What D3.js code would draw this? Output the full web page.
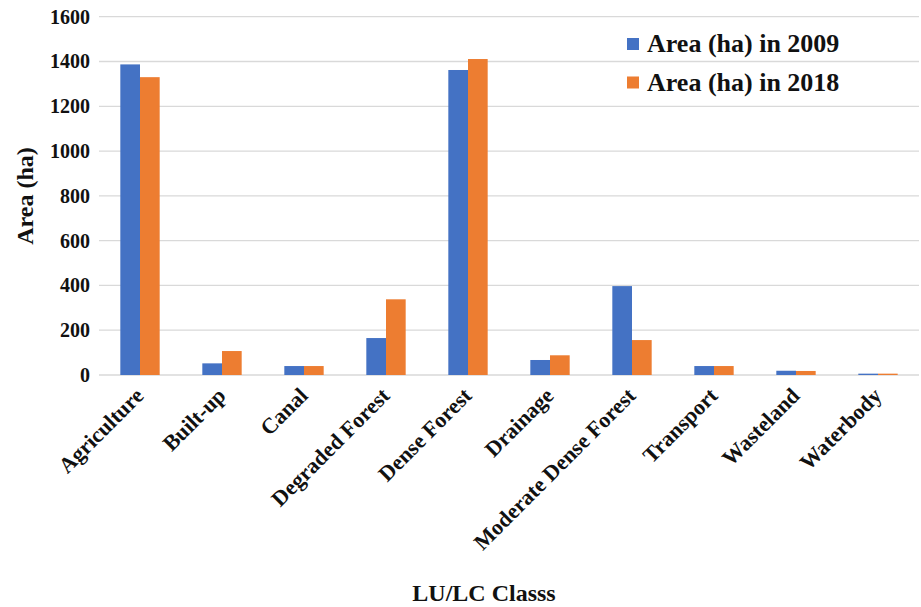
<!DOCTYPE html>
<html>
<head>
<meta charset="utf-8">
<script src="https://cdn.jsdelivr.net/npm/d3@7"></script>
<style>
  html, body { margin: 0; padding: 0; background: #fff; }
  svg { display: block; font-family: "Liberation Serif", "Times New Roman", serif; font-weight: bold; }
</style>
</head>
<body>
<svg id="chart" width="921" height="607"></svg>
<script>
// Land use / land cover classes and their areas (ha)
const categories = ["Agriculture", "Built-up", "Canal", "Degraded Forest", "Dense Forest",
  "Drainage", "Moderate Dense Forest", "Transport", "Wasteland", "Waterbody"];
const area2009 = [1387, 52, 40, 165, 1362, 67, 397, 40, 19, 6];
const area2018 = [1330, 107, 40, 338, 1411, 88, 156, 40, 18, 6];
const seriesNames = ["Area (ha) in 2009", "Area (ha) in 2018"];
const seriesColors = ["#4472C4", "#ED7D31"];
const yTicks = [0, 200, 400, 600, 800, 1000, 1200, 1400, 1600];

const svg = d3.select("#chart");
const W = 921;
const x0 = 99, x1 = W - 2;
const yTop = 16.7, yBot = 375;

const x = d3.scaleBand().domain(categories).range([x0, x1]).paddingInner(0.52).paddingOuter(0.26);
const xs = d3.scaleBand().domain(seriesNames).range([0, x.bandwidth()]);
const y = d3.scaleLinear().domain([0, 1600]).range([yBot, yTop]);

// Horizontal gridlines
svg.append("g").selectAll("line").data(yTicks).join("line")
  .attr("x1", x0).attr("x2", x1)
  .attr("y1", d => y(d)).attr("y2", d => y(d))
  .attr("stroke", "#d9d9d9").attr("stroke-width", 1.3);

// Y tick labels
svg.append("g").selectAll("text").data(yTicks).join("text")
  .attr("x", 90).attr("y", d => y(d)).attr("dy", "0.35em")
  .attr("text-anchor", "end").attr("font-size", 20).attr("fill", "#111")
  .text(d => d);

// Bars
const rows = categories.map((c, i) => ({ c, vals: [area2009[i], area2018[i]] }));
const groups = svg.append("g").selectAll("g").data(rows).join("g")
  .attr("transform", d => `translate(${x(d.c)},0)`);
groups.selectAll("rect").data(d => d.vals.map((v, j) => ({ v, j }))).join("rect")
  .attr("x", d => xs(seriesNames[d.j]))
  .attr("width", xs.bandwidth())
  .attr("y", d => y(d.v))
  .attr("height", d => yBot - y(d.v))
  .attr("fill", d => seriesColors[d.j]);

// Category labels, rotated
svg.append("g").selectAll("text").data(categories).join("text")
  .attr("transform", d => `translate(${x(d) + x.bandwidth() / 2 + 5},397) rotate(-45)`)
  .attr("text-anchor", "end").attr("font-size", 22).attr("fill", "#111")
  .text(d => d);

// Axis titles
svg.append("text")
  .attr("transform", "translate(33,196) rotate(-90)")
  .attr("text-anchor", "middle").attr("font-size", 24).attr("fill", "#111")
  .text("Area (ha)");
svg.append("text")
  .attr("x", 484).attr("y", 601)
  .attr("text-anchor", "middle").attr("font-size", 24).attr("fill", "#111")
  .text("LU/LC Classs");

// Legend
const legend = svg.append("g").selectAll("g").data(seriesNames).join("g")
  .attr("transform", (d, i) => `translate(627,${38 + i * 38.5})`);
legend.append("rect").attr("width", 12).attr("height", 12)
  .attr("fill", (d, i) => seriesColors[i]);
legend.append("text").attr("x", 20).attr("y", 14)
  .attr("font-size", 26).attr("fill", "#111")
  .text(d => d);
</script>
</body>
</html>
